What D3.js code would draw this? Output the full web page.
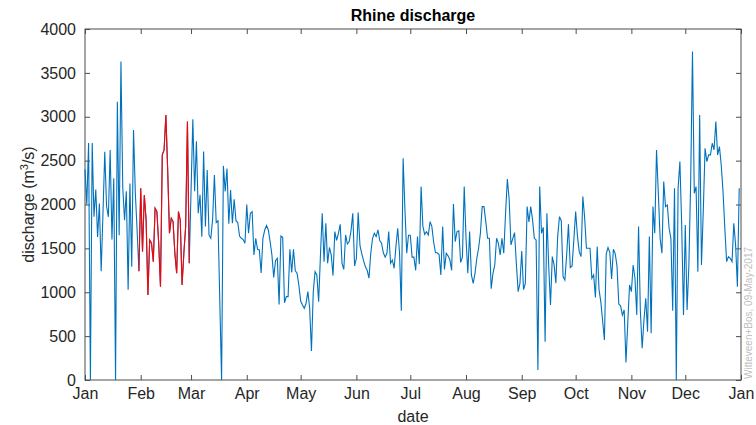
<!DOCTYPE html>
<html lang="en">
<head>
    <meta charset="UTF-8">
    <title>Rhine discharge</title>
    <script src="https://cdnjs.cloudflare.com/ajax/libs/d3/7.8.5/d3.min.js"></script>
    <style>
        body {
            margin: 0;
            background: #fff;
            font-family: "Liberation Sans", Arial, Helvetica, sans-serif;
        }
        .axis text {
            font-size: 16px;
            fill: #262626;
            font-family: "Liberation Sans", Arial, Helvetica, sans-serif;
        }
        .axis line, .axis path {
            stroke: #4d4d4d;
        }
    </style>
</head>
<body>
    <div id="chart"></div>

    <script>
        // Daily discharge (m3/s), one array per month
        const jan = [2400, 2000, 2700, 0, 2700, 1860, 2170, 1630, 2010, 1240, 1900, 2600, 1980, 1860, 2620, 1600,
                     2300, 0, 3170, 1650, 3630, 2200, 1820, 2150, 1030, 2240, 1290, 2850, 2130, 1700, 1240];
        const feb = [2185, 1463, 2109, 1824, 969, 1596, 1558, 1349, 1957, 1919, 1558, 1064, 2565, 2622,
                     3021, 2394, 1672, 1843, 1805, 1444, 1216, 1919, 1824, 1083, 1444, 1748, 2945, 1330];
        const mar = [2150, 2970, 2150, 2720, 1900, 2110, 1634, 2603, 1750, 2394, 1650, 1615, 1830, 2337, 1795, 1815,
                     900, 0, 2440, 2150, 2410, 1780, 2166, 1786, 2060, 1815, 1795, 1640, 1615, 1600, 1558];
        const apr = [2000, 1672, 1900, 1919, 1425, 1615, 1490, 1482, 1220, 1615, 1710, 1760, 1710, 1577, 1425,
                     1170, 1360, 1387, 860, 1640, 1625, 880, 950, 950, 1490, 1225, 1490, 1245, 1216, 1080];
        const may = [900, 855, 817, 874, 1007, 817, 330, 1000, 1235, 1197, 893, 1420, 1900, 1349, 1786, 1330,
                     1510, 1425, 1190, 1691, 1590, 1672, 1775, 1330, 1260, 1653, 1550, 1577, 1700, 1900, 1300];
        const jun = [1387, 1910, 1530, 1440, 1360, 1290, 1250, 1160, 1444, 1615, 1672, 1634, 1710, 1590, 1560,
                     1450, 1400, 1444, 1691, 1330, 1368, 1273, 1520, 1729, 1450, 790, 2527, 1950, 1444, 1650];
        const jul = [1650, 1400, 1400, 1250, 1634, 1320, 2204, 1750, 1660, 1690, 1653, 1805, 1748, 1570, 1450, 1450,
                     1430, 1197, 1748, 1260, 1444, 1415, 1370, 1250, 2005, 1577, 1691, 1700, 1340, 1400, 2204];
        const aug = [1615, 1216, 1691, 1197, 1102, 1216, 1387, 1501, 1672, 1976, 1976, 1805, 1615, 1615, 1040, 1216,
                     1311, 1615, 1558, 1425, 1615, 1444, 1900, 2290, 2060, 1539, 1610, 1680, 1330, 1007, 1100];
        const sep = [1470, 1030, 1100, 1976, 1800, 1976, 1830, 1615, 1596, 114, 2204, 1672, 1740, 437, 1900,
                     1300, 855, 1406, 1311, 1102, 1640, 1862, 1815, 1178, 1140, 1425, 1776, 1282, 1300, 1600];
        const oct = [1920, 1640, 1460, 1406, 2090, 1850, 1501, 1501, 1501, 1160, 1197, 940, 1520, 1030, 893, 675,
                     456, 1435, 1510, 1455, 1150, 1490, 1440, 1300, 865, 845, 740, 798, 200, 655, 1083];
        const nov = [1007, 1311, 1159, 741, 1748, 790, 361, 684, 931, 551, 1634, 532, 1976, 1672, 2622,
                     2128, 1615, 1444, 2261, 1976, 1995, 1729, 1615, 790, 2185, 0, 2185, 2489, 1767, 741];
        const dec = [1767, 798, 1311, 2261, 3743, 2128, 2204, 1235, 3021, 1311, 1919, 2641, 2489, 2565, 2565, 2698,
                     2622, 2945, 2565, 2660, 2451, 2147, 1729, 1349, 1406, 1387, 1349, 1786, 1539, 1064, 2185];

        const year = 2017;
        const monthTicks = ["Jan", "Feb", "Mar", "Apr", "May", "Jun", "Jul", "Aug", "Sep", "Oct", "Nov", "Dec", "Jan"];
        const yTicks = [0, 500, 1000, 1500, 2000, 2500, 3000, 3500, 4000];
        // period drawn in red
        const highlightFrom = new Date(year, 0, 31);
        const highlightTo = new Date(year, 1, 28);

        const months = [jan, feb, mar, apr, may, jun, jul, aug, sep, oct, nov, dec];
        const data = [];
        months.forEach((vals, m) => {
            vals.forEach((v, i) => data.push({ date: new Date(year, m, i + 1), value: v }));
        });
        const highlight = data.filter(d => d.date >= highlightFrom && d.date <= highlightTo);

        // Setup
        const width = 756;
        const height = 425;
        const margin = { top: 29, right: 15, bottom: 45, left: 85 };
        const innerW = width - margin.left - margin.right;
        const innerH = height - margin.top - margin.bottom;

        const svg = d3.select("#chart")
            .append("svg")
            .attr("width", width)
            .attr("height", height);

        const g = svg.append("g")
            .attr("transform", `translate(${margin.left},${margin.top})`);

        const x = d3.scaleTime()
            .domain([new Date(year, 0, 1), new Date(year + 1, 0, 1)])
            .range([0, innerW]);

        const y = d3.scaleLinear()
            .domain([0, 4000])
            .range([innerH, 0]);

        const xTickDates = monthTicks.map((m, i) => new Date(year, i, 1));

        // Axes (MATLAB style: ticks pointing inward, box all round)
        g.append("g")
            .attr("class", "axis")
            .attr("transform", `translate(0,${innerH})`)
            .call(d3.axisBottom(x).tickValues(xTickDates)
                .tickFormat((d, i) => monthTicks[i])
                .tickSize(-5).tickSizeOuter(0).tickPadding(8));

        g.append("g")
            .attr("class", "axis")
            .call(d3.axisTop(x).tickValues(xTickDates).tickFormat("")
                .tickSize(-5).tickSizeOuter(0));

        g.append("g")
            .attr("class", "axis")
            .call(d3.axisLeft(y).tickValues(yTicks).tickFormat(d3.format("d"))
                .tickSize(-5).tickSizeOuter(0).tickPadding(9));

        g.append("g")
            .attr("class", "axis")
            .attr("transform", `translate(${innerW},0)`)
            .call(d3.axisRight(y).tickValues(yTicks).tickFormat("")
                .tickSize(-5).tickSizeOuter(0));

        g.selectAll(".axis .domain").remove();

        g.append("rect")
            .attr("width", innerW)
            .attr("height", innerH)
            .attr("fill", "none")
            .attr("stroke", "#4d4d4d")
            .attr("stroke-width", 1);

        // Lines
        const line = d3.line()
            .x(d => x(d.date))
            .y(d => y(d.value));

        g.append("path")
            .datum(data)
            .attr("fill", "none")
            .attr("stroke", "#0072BD")
            .attr("stroke-width", 1.1)
            .attr("d", line);

        g.append("path")
            .datum(highlight)
            .attr("fill", "none")
            .attr("stroke", "#FF0000")
            .attr("stroke-width", 1.1)
            .attr("d", line);

        // Labels
        svg.append("text")
            .attr("x", margin.left + innerW / 2)
            .attr("y", 21)
            .attr("text-anchor", "middle")
            .style("font-size", "16px")
            .style("font-weight", "bold")
            .style("fill", "#000")
            .text("Rhine discharge");

        svg.append("text")
            .attr("x", margin.left + innerW / 2)
            .attr("y", 422)
            .attr("text-anchor", "middle")
            .style("font-size", "16px")
            .style("fill", "#262626")
            .text("date");

        const yl = svg.append("text")
            .attr("transform", `translate(34,${margin.top + innerH / 2}) rotate(-90)`)
            .attr("text-anchor", "middle")
            .style("font-size", "16px")
            .style("fill", "#262626");
        yl.append("tspan").text("discharge (m");
        yl.append("tspan").attr("dy", -6).style("font-size", "11px").text("3");
        yl.append("tspan").attr("dy", 6).text("/s)");

        svg.append("text")
            .attr("transform", `translate(752,379) rotate(-90)`)
            .style("font-size", "10px")
            .style("fill", "#c0c0c0")
            .text("Witteveen+Bos, 09-May-2017");
    </script>
</body>
</html>
